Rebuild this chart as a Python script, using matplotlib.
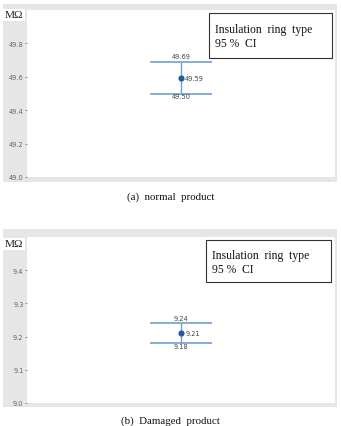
import matplotlib
matplotlib.use("Agg")
import matplotlib.pyplot as plt
from matplotlib.patches import Rectangle

# Data
panels = ["(a)  normal  product", "(b)  Damaged  product"]
means = [49.59, 9.21]
lowers = [49.50, 9.18]
uppers = [49.69, 9.24]
mean_labels = ["49.59", "9.21"]
lower_labels = ["49.50", "9.18"]
upper_labels = ["49.69", "9.24"]
ylims = [(49.0, 50.0), (9.0, 9.5)]
yticks = [[49.0, 49.2, 49.4, 49.6, 49.8], [9.0, 9.1, 9.2, 9.3, 9.4]]
ytick_labels = [["49.0", "49.2", "49.4", "49.6", "49.8"], ["9.0", "9.1", "9.2", "9.3", "9.4"]]
legend_text = "Insulation  ring  type\n95 %  CI"
unit = "MΩ"

W, H = 341, 427
fig = plt.figure(figsize=(W / 100, H / 100), dpi=100)

def fx(px):
    return px / W

def fy(py):
    return 1 - py / H

# geometry per panel (pixel coordinates)
geo = [
    dict(gray=(3, 5, 337, 183), ax=(27, 11, 335, 178), box=(0.591, 0.713, 0.990, 0.982),
         unit_y=16, cap_y=197),
    dict(gray=(3, 230, 337, 408), ax=(27, 238, 335, 404), box=(0.581, 0.729, 0.987, 0.982),
         unit_y=245, cap_y=421),
]

serif = "Liberation Serif"
line_col = "#6f9fcf"
dot_col = "#1f5a9e"
tick_col = "#666666"

for i in range(2):
    g = geo[i]
    gx0, gy0, gx1, gy1 = g["gray"]
    fig.patches.append(Rectangle((fx(gx0), fy(gy1)), fx(gx1 - gx0), (gy1 - gy0) / H,
                                 transform=fig.transFigure, facecolor="#e6e6e6",
                                 edgecolor="none", zorder=-5))
    ax0, ay0, ax1, ay1 = g["ax"]
    ax = fig.add_axes([fx(ax0), fy(ay1), fx(ax1 - ax0), (ay1 - ay0) / H])
    ax.set_zorder(1)
    ax.set_facecolor("white")
    ax.set_xlim(0, 1)
    ax.set_ylim(*ylims[i])
    ax.set_xticks([])
    ax.set_yticks(yticks[i])
    ax.set_yticklabels(ytick_labels[i])
    ax.tick_params(axis="y", labelsize=4.8, colors=tick_col, length=1.5, width=0.5, pad=1)
    for s in ax.spines.values():
        s.set_visible(False)

    m, lo, up = means[i], lowers[i], uppers[i]
    ax.errorbar([0.5], [m], yerr=[[m - lo], [up - m]], fmt="none", ecolor=line_col,
                elinewidth=1.0, capsize=22, capthick=1.2, zorder=2)
    ax.plot([0.5], [m], "o", color=dot_col, markersize=3.4, zorder=3)
    ax.annotate(upper_labels[i], (0.5, up), xytext=(0, 1.8), textcoords="offset points",
                ha="center", va="bottom", fontsize=4.8, color="#444444")
    ax.annotate(lower_labels[i], (0.5, lo), xytext=(0, 0), textcoords="offset points",
                ha="center", va="top", fontsize=4.8, color="#444444")
    ax.annotate(mean_labels[i], (0.5, m), xytext=(3, 0), textcoords="offset points",
                ha="left", va="center", fontsize=4.8, color="#444444")

    bx0, by0, bx1, by1 = g["box"]
    ax.add_patch(Rectangle((bx0, by0), bx1 - bx0, by1 - by0, transform=ax.transAxes,
                           facecolor="white", edgecolor="#333333", linewidth=0.8, zorder=4))
    ax.text(bx0 + 0.02, (by0 + by1) / 2 - 0.005, legend_text, transform=ax.transAxes,
            ha="left", va="center", fontsize=8.4, family=serif, linespacing=1.2,
            color="#111111", zorder=5)

    fig.text(fx(5), fy(g["unit_y"]), unit, ha="left", va="center", fontsize=8.2,
             family=serif, color="#222222", zorder=10,
             bbox=dict(facecolor="white", edgecolor="none", pad=1.2))
    fig.text(0.5, fy(g["cap_y"]), panels[i], ha="center", va="center", fontsize=7.8,
             family=serif, color="#111111")

fig.savefig("out.png", dpi=100)
